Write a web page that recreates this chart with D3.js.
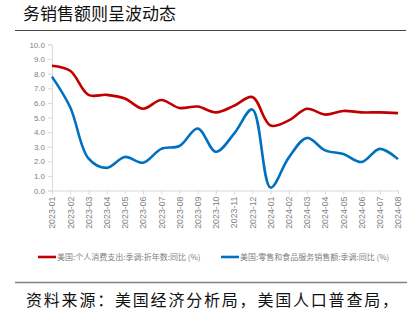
<!DOCTYPE html>
<html><head><meta charset="utf-8">
<script src="https://cdn.jsdelivr.net/npm/d3@7"></script>
<style>
html,body{margin:0;padding:0;background:#fff;}
svg{display:block;font-family:"Liberation Sans","Noto Sans CJK SC",sans-serif;}
</style></head>
<body><svg id="c" width="415" height="327"></svg>
<script>
const categories = ["2023-01","2023-02","2023-03","2023-04","2023-05","2023-06","2023-07","2023-08","2023-09","2023-10","2023-11","2023-12","2024-01","2024-02","2024-03","2024-04","2024-05","2024-06","2024-07","2024-08"];
const pceValues = [8.55,8.2,6.55,6.55,6.3,5.6,6.2,5.65,5.75,5.35,5.8,6.4,4.45,4.8,5.6,5.2,5.45,5.35,5.35,5.3];
const retailValues = [7.8,5.7,2.2,1.55,2.3,1.9,2.85,3.05,4.25,2.65,3.9,5.55,0.2,2.25,3.6,2.75,2.5,1.95,2.85,2.15];
const yTicks = [0,1,2,3,4,5,6,7,8,9,10];
const seriesNames = ["美国:个人消费支出:季调:折年数:同比 (%)","美国:零售和食品服务销售额:季调:同比 (%)"];
const titleText = "务销售额则呈波动态";
const sourceText = "资料来源：美国经济分析局，美国人口普查局，";

const svg = d3.select("#c");
const x = d3.scalePoint().domain(categories).range([52, 398]);
const y = d3.scaleLinear().domain([0, 10]).range([190.5, 44.5]);

// title
svg.append("text").attr("x", 23).attr("y", 20).attr("font-size", 17).attr("fill", "#111")
  .attr("font-family", "'Noto Sans CJK SC',sans-serif").text(titleText);
svg.append("line").attr("x1", 15).attr("x2", 406).attr("y1", 30.5).attr("y2", 30.5)
  .attr("stroke", "#444").attr("stroke-width", 1);

// y axis
const yAxis = svg.append("g").attr("transform", "translate(52,0)")
  .call(d3.axisLeft(y).tickValues(yTicks).tickFormat(d3.format(".1f")).tickSize(4).tickPadding(3));
yAxis.select(".domain").attr("stroke", "#d9d9d9");
yAxis.selectAll(".tick line").attr("stroke", "#d9d9d9");
yAxis.selectAll("text").attr("fill", "#7f7f7f").attr("font-size", 8).attr("font-family", "'Liberation Sans',sans-serif");

// x axis
const xAxis = svg.append("g").attr("transform", "translate(0,190.5)")
  .call(d3.axisBottom(x).tickSize(4).tickSizeOuter(0).tickPadding(4));
xAxis.select(".domain").attr("stroke", "#d9d9d9");
xAxis.selectAll(".tick line").attr("stroke", "#d9d9d9");
xAxis.selectAll("text").attr("fill", "#7f7f7f").attr("font-size", 8.8)
  .attr("font-family", "'Liberation Sans',sans-serif")
  .attr("transform", "rotate(-90)").attr("text-anchor", "end")
  .attr("x", -6).attr("y", 0).attr("dy", "0.32em");

// lines
const line = d3.line().x((d, i) => x(categories[i])).y(d => y(d)).curve(d3.curveCatmullRom.alpha(0.5));
svg.append("path").datum(pceValues).attr("d", line).attr("fill", "none")
  .attr("stroke", "#C00000").attr("stroke-width", 2.6).attr("stroke-linejoin", "round");
svg.append("path").datum(retailValues).attr("d", line).attr("fill", "none")
  .attr("stroke", "#0070C0").attr("stroke-width", 2.6).attr("stroke-linejoin", "round");

// legend
const legend = [{c: "#C00000", x: 38, name: seriesNames[0]}, {c: "#0070C0", x: 221, name: seriesNames[1]}];
legend.forEach(l => {
  svg.append("line").attr("x1", l.x).attr("x2", l.x + 18).attr("y1", 257).attr("y2", 257)
    .attr("stroke", l.c).attr("stroke-width", 2.6);
  svg.append("text").attr("x", l.x + 19).attr("y", 260).attr("font-size", 8).attr("fill", "#7f7f7f")
    .attr("font-family", "'Noto Sans CJK SC',sans-serif").text(l.name);
});

// bottom rule and source
svg.append("line").attr("x1", 15).attr("x2", 407).attr("y1", 282.5).attr("y2", 282.5)
  .attr("stroke", "#808080").attr("stroke-width", 1.5);
svg.append("text").attr("x", 26).attr("y", 306).attr("font-size", 16).attr("fill", "#111")
  .attr("letter-spacing", 1.8)
  .attr("font-family", "'Noto Sans CJK SC',sans-serif").text(sourceText);
</script></body></html>
